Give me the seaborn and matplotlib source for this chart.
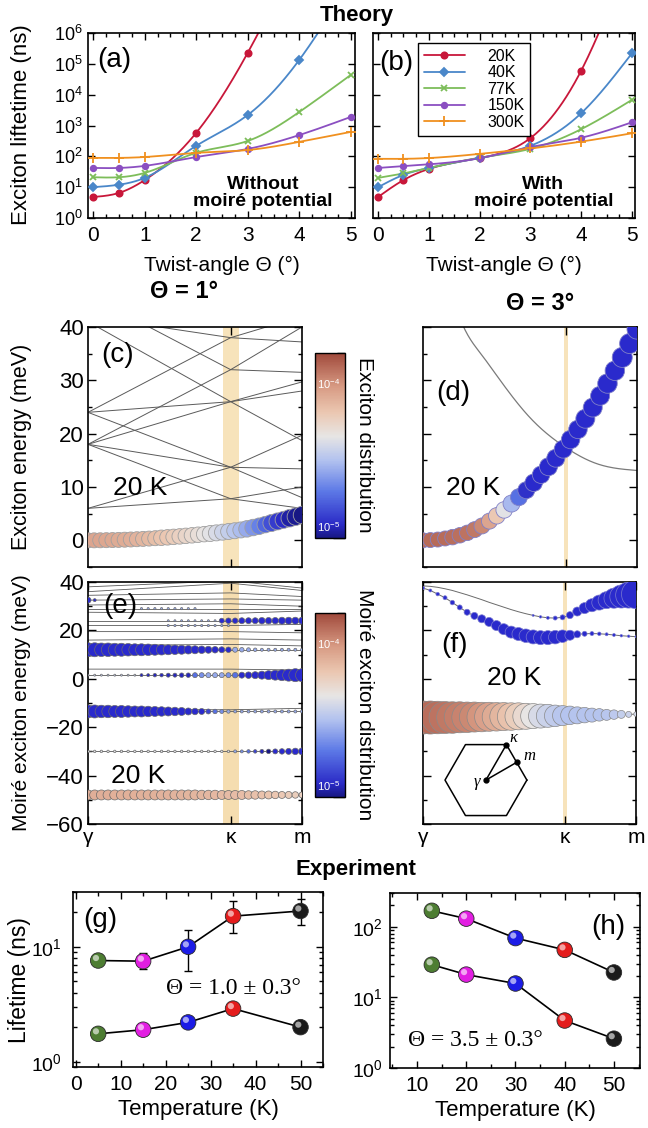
import numpy as np
import pandas as pd
import matplotlib
matplotlib.use("Agg")
import matplotlib.pyplot as plt
import matplotlib.transforms as mtransforms
from matplotlib.colors import LinearSegmentedColormap, LogNorm, to_rgb
from matplotlib.lines import Line2D
from matplotlib.cm import ScalarMappable
from matplotlib.ticker import (FixedLocator, LogLocator, MultipleLocator,
                               NullFormatter, NullLocator)
import seaborn as sns

sns.set_style("ticks")
plt.rcParams["font.family"] = ["Liberation Sans", "DejaVu Sans"]
plt.rcParams["mathtext.default"] = "regular"
for key in ["axes.edgecolor", "text.color", "axes.labelcolor", "xtick.color", "ytick.color"]:
    plt.rcParams[key] = "black"
plt.rcParams["axes.linewidth"] = 1.2

# ------------------------------------------------------------------ data
# (a), (b): theoretical exciton lifetime (ns) vs twist angle
twist_deg = [0, 0.5, 1, 2, 3, 4, 5]
temp_labels = ["20K", "40K", "77K", "150K", "300K"]

tau_free_20K = [4.8, 6.5, 17, 580, 2.3e5, 3e8, 1e11]
tau_free_40K = [10, 12, 20, 220, 2200, 1.35e5, 5e7]
tau_free_77K = [21, 21, 29, 130, 316, 2750, 4.4e4]
tau_free_150K = [42, 42, 49, 95, 174, 490, 1900]
tau_free_300K = [89, 89, 95, 130, 160, 295, 620]

tau_moire_20K = [4.8, 17, 39, 88, 390, 6e4, 5e8]
tau_moire_40K = [10, 25, 42, 88, 220, 2500, 2.2e5]
tau_moire_77K = [20, 28, 42, 90, 175, 760, 6800]
tau_moire_150K = [42, 48, 55, 87, 200, 400, 1270]
tau_moire_300K = [83, 83, 88, 120, 180, 300, 560]

# path coordinate of the kappa point along gamma-kappa-m
KAPPA = 2 / 3
path_ticks = [0, KAPPA, 1]
path_labels = ["γ", "κ", "m"]

# (c): free bands at 1 deg (meV at gamma, kappa, m)
c_band_gamma = [6, 6, 18, 18, 18, 18, 24, 24, 24, 41, 46, 42]
c_band_kappa = [7.8, 13.7, 7.8, 13.7, 26, 32, 13.7, 26, 38, 26, 32, 38]
c_band_m = [10, 19.7, 6, 13.4, 29.7, 40, 8, 28, 42, 18.7, 31.5, 37.2]
# lowest band with population (energy meV, distribution in 1e-5, bubble diameter px)
c_energy = [0.00, 0.00, 0.01, 0.03, 0.05, 0.08, 0.12, 0.16, 0.21, 0.27,
            0.33, 0.40, 0.48, 0.56, 0.65, 0.74, 0.84, 0.94, 1.05, 1.16,
            1.28, 1.40, 1.53, 1.66, 1.80, 1.95, 2.15, 2.40, 2.65, 2.95,
            3.25, 3.55, 3.85, 4.15, 4.45, 4.75]
c_dist = [10.5, 10.5, 10.4, 10.3, 10.2, 10.0, 9.8, 9.6, 9.3, 9.0,
          8.7, 8.3, 7.9, 7.6, 7.2, 6.8, 6.4, 6.1, 5.7, 5.3,
          5.0, 4.65, 4.3, 4.0, 3.7, 3.4, 3.0, 2.6, 2.25, 1.9,
          1.6, 1.4, 1.25, 1.12, 1.05, 1.0]
c_diam = [15, 15, 15, 15, 15, 15, 15, 15, 15, 15, 15, 15,
          15.5, 15.5, 15.5, 15.5, 15.5, 15.5, 15.5, 15.5,
          16, 16, 16, 16, 16, 16, 16.5, 16.5, 16.5, 16.5,
          17, 17, 17, 17.5, 17.5, 17.5]

# (d): 3 deg
d_curve_k = [0.15, 0.19, 0.27, 0.35, 0.5, 0.667, 0.81, 1.0]
d_curve_E = [44, 40, 35, 30.6, 23, 17.4, 14.4, 13.1]
d_energy = [0.0, 0.05, 0.15, 0.35, 0.6, 0.95, 1.4, 2.0, 2.7, 3.6,
            4.6, 5.7, 6.9, 8.1, 9.4, 10.8, 12.3, 13.8, 15.4, 17.1,
            18.9, 20.8, 22.8, 24.9, 27.1, 29.4, 31.8, 34.3, 36.9, 39.6]
d_dist = [16, 16, 16, 15.8, 15.6, 15.3, 15, 14.5, 13, 10.5,
          7.5, 5.0, 3.3, 2.0, 1.3, 0.95, 0.9, 0.9, 0.9, 0.9,
          0.9, 0.9, 0.9, 0.9, 0.9, 0.9, 0.9, 0.9, 0.9, 0.9]
d_diam = [15, 15, 15, 15, 15.5, 15.5, 15.5, 16, 16, 16,
          16.5, 16.5, 17, 17, 17, 17.5, 17.5, 18, 18, 18,
          18.5, 18.5, 19, 19, 19, 19.5, 19.5, 20, 20, 20]

# (e): moiré bands at 1 deg (lines: meV at gamma, kappa, m)
e_line_gamma = [-48, -30, -13.5, -12.6, 1.5, 4, 12, 13.8, 16, 19.5, 22, 24, 27.5, 29, 30.5, 32.5, 34.5, 36, 38]
e_line_kappa = [-48, -30, -13.5, -12.8, 1.5, 4, 12, 14.2, 16.5, 19.5, 22, 24, 27, 29, 31, 33, 35.5, 39.5, 40.5]
e_line_m = [-48, -30, -13.5, -12.2, 1.5, 3.6, 12, 13.6, 16, 19, 22.5, 24, 28, 29, 30, 32.5, 34, 36.5, 37.5]

e_bubble_E = [-48, -30, -13.5, 1.5, 12, 22, 24, 29, 32.5]
e_diam_m48 = [10, 10, 10, 10, 10, 10, 10, 10, 10, 10, 10, 10, 10, 10, 10, 10, 10,
              9.5, 9.5, 9.5, 9, 9, 9, 9, 8.5, 8.5, 8, 8, 7.5, 7, 7, 6.5, 6]
e_dist_m48 = [9.6, 9.6, 9.6, 9.6, 9.5, 9.5, 9.5, 9.5, 9.4, 9.4, 9.4, 9.3, 9.3, 9.2, 9.2, 9.1, 9.0,
              9.0, 8.9, 8.8, 8.7, 8.6, 8.5, 8.4, 8.3, 8.1, 8.0, 7.8, 7.6, 7.4, 7.2, 7.0, 6.8]
e_diam_m30 = [2.5] * 22 + [3, 3, 3.5, 3.5, 4, 4.5, 5, 5.5, 6, 6.5, 7]
e_dist_m30 = [5] * 22 + [3, 2.5, 2, 1.5, 1.2, 1, 0.9, 0.9, 0.9, 0.9, 0.9]
e_diam_m13 = [13, 13, 12.5, 12.5, 12, 12, 11.5, 11, 11, 10.5, 10, 9.5, 9, 8.5, 8, 7, 6.5,
              6, 5, 4.5, 4, 3.5, 3, 3, 3, 3, 3, 3, 3, 3, 3, 3, 3]
e_dist_m13 = [0.9] * 18 + [1.5, 2, 2.5] + [3] * 12
e_diam_p1 = [2] * 8 + [3, 3, 3.5, 3.5, 4, 4, 4.5, 4.5, 5, 5, 5, 5, 5, 5, 5.5, 6, 6.5,
                       7, 8, 9, 10, 11, 12, 13, 13]
e_dist_p1 = [4] * 8 + [1.2] * 8 + [2, 2.5, 3, 3, 3, 2.5, 2] + [0.9] * 10
e_diam_p12 = [14, 14, 13.5, 13.5, 13, 13, 12.5, 12, 12, 11.5, 11, 10.5, 10, 9.5, 9, 8.5, 8,
              7.5, 7, 6.5, 6, 5.5, 5, 4.5, 4, 3.5, 3, 3, 3, 3, 3, 3, 3]
e_dist_p12 = [0.9] * 22 + [3] * 11
e_diam_p22 = [0] * 12 + [2.2] * 10 + [0] * 11
e_dist_p22 = [3] * 33
e_diam_p24 = [0] * 12 + [2] * 8 + [5, 5.5, 5.5, 6, 6, 6, 6.5, 6.5, 6.5, 7, 7, 7, 7]
e_dist_p24 = [3] * 20 + [0.9] * 13
e_diam_p29 = [0] * 8 + [2.2] * 9 + [0] * 16
e_dist_p29 = [3] * 33
e_diam_p32 = [6, 3] + [0] * 31
e_dist_p32 = [0.9] * 33

# (f): moiré bands at 3 deg
f_low_E = [-16.0, -16.0, -16.0, -16.0, -16.0, -15.9, -15.9, -15.8, -15.8, -15.7,
           -15.7, -15.6, -15.6, -15.5, -15.5, -15.4, -15.4, -15.3, -15.3, -15.2,
           -15.1, -15.1, -15.0, -15.0, -14.9, -14.9, -14.8, -14.7, -14.7, -14.6]
f_low_diam = [33, 33, 32.5, 32, 31.5, 31, 30.5, 30, 29.5, 29,
              28.5, 28, 27.5, 27, 26, 25, 24, 23, 21.5, 20,
              18.5, 17, 15.5, 14, 12.5, 11, 9.5, 8, 6, 4.5]
f_low_dist = [16, 16, 15.5, 15, 14.5, 14, 13.5, 13, 12, 11,
              10, 9, 8, 7, 6, 5.2, 4.6, 4.2, 3.9, 3.7,
              3.6, 3.6, 3.6, 3.6, 3.6, 3.7, 3.8, 4.0, 4.2, 4.5]
f_mid_E = [37.5, 36.5, 35, 33.5, 31.5, 29.5, 27.5, 26, 24.8, 23.5,
           22, 20.5, 19.3, 18.5, 17.8, 17.3, 17.0, 17.0, 17.2, 17.6,
           18.0, 18.4, 18.6, 18.7, 18.6, 18.4, 18.1, 17.8, 17.6, 17.4]
f_mid_diam = [3, 3, 3.5, 4, 4.5, 5, 6, 7, 8, 9,
              10, 11, 12, 13, 13.5, 14, 14, 14, 13.5, 12.5,
              10, 7, 5, 4, 3.5, 3, 3, 2.5, 2.5, 2]
f_mid_dist = [0.9] * 30
f_top_E = [38.4, 38.2, 37.8, 37.2, 36.5, 35.6, 34.7, 33.7, 32.7, 31.6,
           30.6, 29.6, 28.6, 27.7, 26.9, 26.2, 25.6, 25.2, 25.1, 25.4,
           26.3, 27.8, 29.2, 30.4, 31.5, 32.5, 33.3, 34.0, 34.6, 35.0]
f_top_diam = [0] * 15 + [2, 2.5, 3, 4, 5, 7, 9, 11, 13, 15, 17, 20, 23, 26, 29]
f_top_dist = [0.9] * 30

# (g), (h): measured lifetimes (ns)
T_g = [5, 15, 25, 35, 50]
tau_g_slow = [7.6, 7.5, 10, 18.5, 20.5]
tau_g_slow_lo = [6.9, 6.4, 6.2, 13.2, 15.6]
tau_g_slow_hi = [8.6, 8.8, 13.9, 24.8, 26.3]
tau_g_fast = [1.75, 1.9, 2.2, 2.9, 2.0]

T_h = [13, 20, 30, 40, 50]
tau_h_slow = [168, 130, 69, 47, 22.5]
tau_h_fast = [29, 21, 15.7, 4.7, 2.6]

# ------------------------------------------------------------------ styles
W, H = 648, 1128
theory_colors = ["#c8173a", "#4a87c9", "#7dbd5a", "#8b4fc1", "#f0901f"]
theory_markers = ["o", "D", "x", "o", "+"]
theory_ms = [4.5, 4, 5, 4, 6.5]
sphere_colors = ["#4d7d32", "#e21ee2", "#1c1ce6", "#e41c1c", "#1a1a1a"]
band_color = "#5a5a5a"
kappa_fill = "#f6dfb0"

dist_cmap = LinearSegmentedColormap.from_list("exciton_dist", [
    (0.00, "#181884"), (0.07, "#2a2ac6"), (0.25, "#5c78e6"), (0.42, "#b2c2ef"),
    (0.55, "#e7e5e4"), (0.68, "#ebc7b1"), (0.82, "#d79a83"), (1.00, "#a0493b")])
dist_cmap.set_under("#2a2acc")
dist_norm = LogNorm(vmin=1e-5, vmax=2e-4)


def px_box(l, t, r, b):
    return [l / W, 1 - b / H, (r - l) / W, (b - t) / H]


def natural_spline(xk, yk, xs):
    xk = np.asarray(xk, float)
    yk = np.asarray(yk, float)
    n = len(xk)
    h = np.diff(xk)
    A = np.zeros((n, n))
    r = np.zeros(n)
    A[0, 0] = A[-1, -1] = 1.0
    for i in range(1, n - 1):
        A[i, i - 1] = h[i - 1]
        A[i, i] = 2 * (h[i - 1] + h[i])
        A[i, i + 1] = h[i]
        r[i] = 3 * ((yk[i + 1] - yk[i]) / h[i] - (yk[i] - yk[i - 1]) / h[i - 1])
    c = np.linalg.solve(A, r)
    b = (yk[1:] - yk[:-1]) / h - h * (2 * c[:-1] + c[1:]) / 3
    d = (c[1:] - c[:-1]) / (3 * h)
    idx = np.clip(np.searchsorted(xk, xs, side="right") - 1, 0, n - 2)
    dx = xs - xk[idx]
    return yk[idx] + b[idx] * dx + c[idx] * dx ** 2 + d[idx] * dx ** 3


def bubbles(ax, k, energy, dist_e5, diam_px, edge="#8a8a8a", lw=0.5):
    area = (np.asarray(diam_px, float) * 0.72) ** 2
    smax = 1200.0
    sns.scatterplot(x=np.asarray(k), y=np.asarray(energy, float),
                    hue=np.asarray(dist_e5, float) * 1e-5, palette=dist_cmap, hue_norm=dist_norm,
                    size=area, sizes=(0, smax), size_norm=(0, smax),
                    edgecolor=edge, linewidth=lw, legend=False, ax=ax, zorder=3)


def band_lines(ax, e_g, e_k, e_m, lw=0.7):
    rows = []
    for i, (a, b, c) in enumerate(zip(e_g, e_k, e_m)):
        rows += [(i, 0.0, a), (i, KAPPA, b), (i, 1.0, c)]
    df = pd.DataFrame(rows, columns=["band", "k", "E"])
    sns.lineplot(data=df, x="k", y="E", units="band", estimator=None,
                 color=band_color, lw=lw, ax=ax, zorder=1, sort=False)


def spheres(ax, xs, ys):
    sns.scatterplot(x=xs, y=ys, hue=[str(i) for i in range(len(xs))],
                    palette=sphere_colors, s=125, edgecolor="#2a2a2a",
                    linewidth=0.6, legend=False, ax=ax, zorder=4)
    off = mtransforms.offset_copy(ax.transData, fig=ax.figure, x=-1.6, y=1.8, units="points")
    for x, y, c in zip(xs, ys, sphere_colors):
        rgb = np.array(to_rgb(c))
        light = rgb + (1 - rgb) * 0.6
        ax.scatter([x], [y], s=20, color=light, edgecolor="none", zorder=5, transform=off)


fig = plt.figure(figsize=(W / 100, H / 100), dpi=100)
ax_a = fig.add_axes(px_box(88, 33, 355, 218))
ax_b = fig.add_axes(px_box(373, 33, 635, 218))
ax_c = fig.add_axes(px_box(88, 327, 302, 567))
ax_d = fig.add_axes(px_box(423, 327, 637, 567))
cax_1 = fig.add_axes(px_box(315, 353, 345, 538))
ax_e = fig.add_axes(px_box(88, 582, 302, 824))
ax_f = fig.add_axes(px_box(423, 582, 636, 824))
cax_2 = fig.add_axes(px_box(315, 613, 345, 797))
ax_g = fig.add_axes(px_box(73, 892, 323, 1067))
ax_h = fig.add_axes(px_box(390, 893, 640, 1068))

# ------------------------------------------------------------------ (a), (b)
free_sets = [tau_free_20K, tau_free_40K, tau_free_77K, tau_free_150K, tau_free_300K]
moire_sets = [tau_moire_20K, tau_moire_40K, tau_moire_77K, tau_moire_150K, tau_moire_300K]
xs_fine = np.linspace(0, 5, 400)
for ax, sets, xlim in [(ax_a, free_sets, (-0.1, 5.08)), (ax_b, moire_sets, (-0.1, 5.06))]:
    for tau, col, mk, ms in zip(sets, theory_colors, theory_markers, theory_ms):
        ys = 10 ** natural_spline(twist_deg, np.log10(tau), xs_fine)
        sns.lineplot(x=xs_fine, y=ys, color=col, lw=1.3, ax=ax, zorder=2)
        ax.plot(twist_deg, tau, ls="none", marker=mk, ms=ms, color=col, mew=1.3, zorder=3)
    ax.set_yscale("log")
    ax.set_ylim(1, 1e6)
    ax.set_xlim(*xlim)
    ax.yaxis.set_major_locator(LogLocator(base=10, numticks=10))
    ax.yaxis.set_minor_locator(NullLocator())
    ax.xaxis.set_major_locator(MultipleLocator(1))
    ax.xaxis.set_minor_locator(MultipleLocator(0.25))
    ax.tick_params(which="both", direction="in", top=True, right=True, width=1)
    ax.tick_params(which="major", length=5)
    ax.tick_params(which="minor", length=3)
    ax.tick_params(axis="x", labelsize=15, pad=6)
    ax.tick_params(axis="y", labelsize=13, pad=4)
    ax.set_xlabel("Twist-angle Θ (°)", fontsize=15)
    ax.xaxis.label.set_va("center")
    ax.xaxis.set_label_coords(0.5, -0.255)
ax_b.tick_params(labelleft=False)

ax_a.text(0.655, 0.135, "Without\nmoiré potential", transform=ax_a.transAxes, ha="center",
          va="center", fontsize=14, fontweight="bold", linespacing=1.0)
ax_b.text(0.65, 0.135, "With\nmoiré potential", transform=ax_b.transAxes, ha="center",
          va="center", fontsize=14, fontweight="bold", linespacing=1.0)
ax_a.text(0.1, 0.854, "(a)", transform=ax_a.transAxes, ha="center", va="center", fontsize=20)
ax_b.text(0.088, 0.838, "(b)", transform=ax_b.transAxes, ha="center", va="center", fontsize=20)

handles = [Line2D([], [], color=c, marker=m, ms=ms, mew=1.3, lw=1.3)
           for c, m, ms in zip(theory_colors, theory_markers, theory_ms)]
ax_b.legend(handles, temp_labels, loc="upper left", bbox_to_anchor=(0.172, 0.946),
            frameon=True, fancybox=False, edgecolor="black", framealpha=1, fontsize=11.5,
            handlelength=2.6, handletextpad=1.4, labelspacing=0.1, borderpad=0.35,
            borderaxespad=0).get_frame().set_linewidth(1.0)

# ------------------------------------------------------------------ (c), (d)
k_c = np.linspace(0, 1, len(c_energy))
k_d = np.linspace(0, 1, len(d_energy))
ax_c.axvspan(KAPPA - 0.037, KAPPA + 0.037, color=kappa_fill, alpha=0.85, lw=0, zorder=0)
band_lines(ax_c, c_band_gamma, c_band_kappa, c_band_m)
bubbles(ax_c, k_c, c_energy, c_dist, c_diam, edge="#a0a0a0", lw=0.6)

ax_d.axvspan(KAPPA - 0.009, KAPPA + 0.009, color=kappa_fill, alpha=0.85, lw=0, zorder=0)
k_fine = np.linspace(d_curve_k[0], 1.0, 200)
sns.lineplot(x=k_fine, y=natural_spline(d_curve_k, d_curve_E, k_fine), color="#7a7a7a",
             lw=0.9, ax=ax_d, zorder=1)
bubbles(ax_d, k_d, d_energy, d_dist, d_diam, edge="#8080c8", lw=0.6)

for ax in [ax_c, ax_d]:
    ax.set_xlim(0, 1)
    ax.set_ylim(-5, 40)
    ax.set_xticks([KAPPA])
    ax.set_xticklabels([])
    ax.yaxis.set_major_locator(MultipleLocator(10))
    ax.yaxis.set_minor_locator(MultipleLocator(5))
    ax.tick_params(which="both", direction="in", top=True, right=True, width=1)
    ax.tick_params(which="major", length=6)
    ax.tick_params(which="minor", length=3)
    ax.tick_params(axis="y", labelsize=16, pad=3)
ax_d.tick_params(labelleft=False)
ax_c.text(0.14, 0.883, "(c)", transform=ax_c.transAxes, ha="center", va="center", fontsize=20)
ax_d.text(0.14, 0.725, "(d)", transform=ax_d.transAxes, ha="center", va="center", fontsize=20)
ax_c.text(0.243, 0.329, "20 K", transform=ax_c.transAxes, ha="center", va="center", fontsize=19, zorder=5)
ax_d.text(0.234, 0.329, "20 K", transform=ax_d.transAxes, ha="center", va="center", fontsize=19, zorder=5)

# ------------------------------------------------------------------ (e), (f)
k_e = np.linspace(0, 1, len(e_diam_m48))
k_f = np.linspace(0, 1, len(f_low_E))
ax_e.axvspan(KAPPA - 0.037, KAPPA + 0.037, color="#f4d7a2", alpha=0.85, lw=0, zorder=0)
band_lines(ax_e, e_line_gamma, e_line_kappa, e_line_m, lw=0.6)
e_sets = [(e_diam_m48, e_dist_m48), (e_diam_m30, e_dist_m30), (e_diam_m13, e_dist_m13),
          (e_diam_p1, e_dist_p1), (e_diam_p12, e_dist_p12), (e_diam_p22, e_dist_p22),
          (e_diam_p24, e_dist_p24), (e_diam_p29, e_dist_p29), (e_diam_p32, e_dist_p32)]
for level, (diam, dist) in zip(e_bubble_E, e_sets):
    bubbles(ax_e, k_e, [level] * len(k_e), dist, diam, edge="#6a6a6a", lw=0.5)

ax_f.axvspan(KAPPA - 0.009, KAPPA + 0.009, color=kappa_fill, alpha=0.85, lw=0, zorder=0)
for energy in [f_low_E, f_mid_E, f_top_E]:
    sns.lineplot(x=k_f, y=energy, color="#6a6a6a", lw=0.7, ax=ax_f, zorder=1)
bubbles(ax_f, k_f, f_top_E, f_top_dist, f_top_diam, edge="#7a7ad0", lw=0.5)
bubbles(ax_f, k_f, f_mid_E, f_mid_dist, f_mid_diam, edge="#7a7ad0", lw=0.5)
bubbles(ax_f, k_f, f_low_E, f_low_dist, f_low_diam, edge="#8a8a8a", lw=0.5)

for ax in [ax_e, ax_f]:
    ax.set_xlim(0, 1)
    ax.set_ylim(-60, 40)
    ax.set_xticks(path_ticks)
    ax.set_xticklabels(path_labels)
    ax.yaxis.set_major_locator(MultipleLocator(20))
    ax.yaxis.set_minor_locator(MultipleLocator(10))
    ax.tick_params(which="both", direction="in", top=True, right=True, width=1)
    ax.tick_params(which="major", length=6)
    ax.tick_params(which="minor", length=3)
    ax.tick_params(axis="y", labelsize=16, pad=3)
    ax.tick_params(axis="x", labelsize=15, pad=3)
ax_f.tick_params(labelleft=False)
ax_e.text(0.15, 0.9, "(e)", transform=ax_e.transAxes, ha="center", va="center", fontsize=20, zorder=6)
ax_f.text(0.15, 0.74, "(f)", transform=ax_f.transAxes, ha="center", va="center", fontsize=20)
ax_e.text(0.234, 0.198, "20 K", transform=ax_e.transAxes, ha="center", va="center", fontsize=19)
ax_f.text(0.427, 0.603, "20 K", transform=ax_f.transAxes, ha="center", va="center", fontsize=19)

# Brillouin-zone sketch
ax_bz = ax_f.inset_axes([0.061, -0.025, 0.469, 0.413])
ax_bz.set_xlim(-1.22, 1.22)
ax_bz.set_ylim(-1.22, 1.22)
ax_bz.axis("off")
ang = np.deg2rad(np.arange(0, 361, 60))
ax_bz.plot(np.cos(ang), np.sin(ang), color="black", lw=1.1)
gam, kap, mpt = (0, 0), (0.5, np.sqrt(3) / 2), (0.75, np.sqrt(3) / 4)
for p in [kap, mpt]:
    ax_bz.plot([gam[0], p[0]], [gam[1], p[1]], color="black", lw=1.1)
ax_bz.plot([gam[0], kap[0], mpt[0]], [gam[1], kap[1], mpt[1]], ls="none", marker="o", ms=3.5, color="black")
ax_bz.text(kap[0] + 0.17, kap[1] + 0.17, "κ", fontsize=12, style="italic", family="Liberation Serif", ha="center", va="center")
ax_bz.text(mpt[0] + 0.3, mpt[1] + 0.15, "m", fontsize=12, style="italic", family="Liberation Serif", ha="center", va="center")
ax_bz.text(gam[0] - 0.22, gam[1] - 0.04, "γ", fontsize=12, style="italic", family="Liberation Serif", ha="center", va="center")

# ------------------------------------------------------------------ colour bars
for cax, label, yc in [(cax_1, "Exciton distribution", 445), (cax_2, "Moiré exciton distribution", 705)]:
    cb = fig.colorbar(ScalarMappable(norm=dist_norm, cmap=dist_cmap), cax=cax)
    cb.outline.set_linewidth(1.0)
    cax.yaxis.set_major_locator(FixedLocator([1e-5, 1e-4]))
    cax.yaxis.set_minor_locator(LogLocator(base=10, subs=np.arange(2, 10), numticks=10))
    cax.yaxis.set_major_formatter(NullFormatter())
    cax.yaxis.set_minor_formatter(NullFormatter())
    cax.tick_params(which="both", direction="in", right=True, left=False, color="black", width=1)
    cax.tick_params(which="major", length=9)
    cax.tick_params(which="minor", length=6)
    tr = mtransforms.blended_transform_factory(cax.transAxes, cax.transData)
    cax.text(0.06, 1.08e-4, "$10^{-4}$", transform=tr, color="white", fontsize=8, va="bottom", ha="left")
    cax.text(0.06, 1.06e-5, "$10^{-5}$", transform=tr, color="white", fontsize=8, va="bottom", ha="left")
    fig.text(365 / W, 1 - yc / H, label, rotation=270, ha="center", va="center", fontsize=15)

# ------------------------------------------------------------------ (g), (h)
yerr = [np.array(tau_g_slow) - np.array(tau_g_slow_lo), np.array(tau_g_slow_hi) - np.array(tau_g_slow)]
ax_g.errorbar(T_g, tau_g_slow, yerr=yerr, fmt="none", ecolor="black", elinewidth=1,
              capsize=3, capthick=1, zorder=2)
for ax, T, series in [(ax_g, T_g, [tau_g_slow, tau_g_fast]), (ax_h, T_h, [tau_h_slow, tau_h_fast])]:
    for tau in series:
        sns.lineplot(x=T, y=tau, color="black", lw=1.2, ax=ax, zorder=3)
        spheres(ax, T, tau)
    ax.set_yscale("log")
    ax.yaxis.set_major_locator(LogLocator(base=10, numticks=10))
    ax.yaxis.set_minor_locator(LogLocator(base=10, subs=np.arange(2, 10), numticks=10))
    ax.yaxis.set_minor_formatter(NullFormatter())
    ax.xaxis.set_minor_locator(MultipleLocator(5))
    ax.tick_params(which="both", direction="in", top=True, right=True, width=1)
    ax.tick_params(which="major", length=5)
    ax.tick_params(which="minor", length=3)
    ax.tick_params(axis="x", labelsize=15, pad=6)
    ax.tick_params(axis="y", labelsize=14)
    ax.set_xlabel("Temperature (K)", fontsize=16)
    ax.xaxis.label.set_va("center")
    ax.xaxis.set_label_coords(0.5, -0.245)
ax_g.set_ylim(0.9, 30)
ax_g.set_xlim(-0.6, 55)
ax_g.xaxis.set_major_locator(MultipleLocator(10))
ax_g.tick_params(axis="y", pad=8)
ax_h.set_ylim(1, 300)
ax_h.set_xlim(4.5, 55.3)
ax_h.set_xticks([10, 20, 30, 40, 50])
ax_h.tick_params(axis="y", pad=5)
ax_g.text(0.108, 0.84, "(g)", transform=ax_g.transAxes, ha="center", va="center", fontsize=20)
ax_h.text(0.872, 0.806, "(h)", transform=ax_h.transAxes, ha="center", va="center", fontsize=20)
ax_g.text(0.64, 0.451, "Θ = 1.0 ± 0.3°", transform=ax_g.transAxes, ha="center", va="center",
          fontsize=17, family="Liberation Serif")
ax_h.text(0.34, 0.16, "Θ = 3.5 ± 0.3°", transform=ax_h.transAxes, ha="center", va="center",
          fontsize=17, family="Liberation Serif")

# ------------------------------------------------------------------ figure-level text
fig.text(357 / W, 1 - 15 / H, "Theory", ha="center", va="center", fontsize=16, fontweight="bold")
fig.text(356 / W, 1 - 870 / H, "Experiment", ha="center", va="center", fontsize=16, fontweight="bold")
fig.text(184 / W, 1 - 292 / H, "Θ = 1°", ha="center", va="center", fontsize=17, fontweight="bold")
fig.text(540 / W, 1 - 304 / H, "Θ = 3°", ha="center", va="center", fontsize=17, fontweight="bold")
fig.text(22 / W, 1 - 125 / H, "Exciton liftetime (ns)", rotation=90, ha="center", va="center", fontsize=16)
fig.text(22 / W, 1 - 447 / H, "Exciton energy (meV)", rotation=90, ha="center", va="center", fontsize=15.5)
fig.text(22 / W, 1 - 703 / H, "Moiré exciton energy (meV)", rotation=90, ha="center", va="center", fontsize=15)
fig.text(20 / W, 1 - 980 / H, "Lifetime (ns)", rotation=90, ha="center", va="center", fontsize=16.5)

for ax in [ax_a, ax_b, ax_c, ax_d, ax_e, ax_f, ax_g, ax_h]:
    ax.set_ylabel("")
for ax in [ax_c, ax_d, ax_e, ax_f]:
    ax.set_xlabel("")

fig.savefig("out.png", dpi=100)
